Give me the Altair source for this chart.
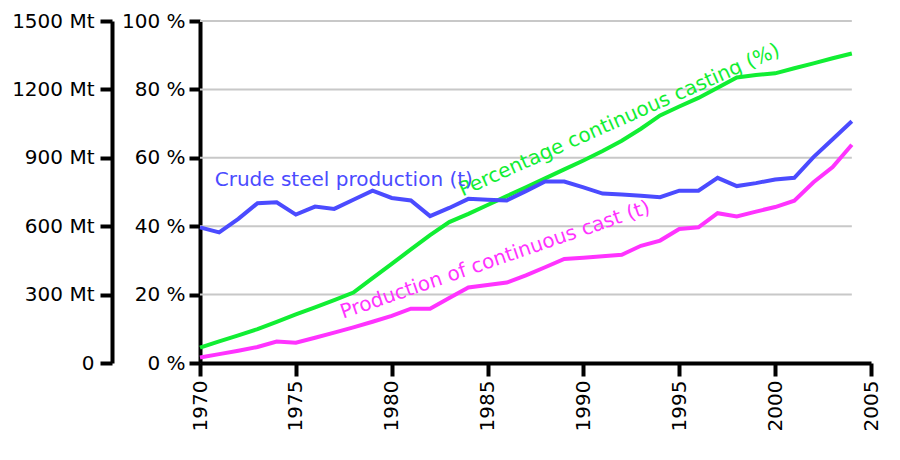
import altair as alt
import pandas as pd

FONT = "DejaVu Sans"
BLUE = "#4b4bff"
GREEN = "#11ee33"
MAGENTA = "#ff33ff"

years = list(range(1970, 2005))
crude_steel_mt = [595, 573, 632, 701, 705, 651, 686, 676, 716, 756,
                  724, 713, 644, 680, 720, 716, 713, 754, 796, 796,
                  770, 743, 739, 734, 727, 756, 756, 812, 776, 789,
                  805, 812, 903, 981, 1060]
continuous_cast_mt = [24, 39, 54, 70, 94, 89, 111, 133, 156, 181,
                      207, 238, 238, 285, 331, 342, 353, 384, 420, 456,
                      462, 468, 475, 514, 537, 588, 595, 657, 643, 664,
                      684, 712, 793, 859, 957]
continuous_pct = [4.5, 6.3, 8.1, 9.9, 12.0, 14.2, 16.3, 18.4, 20.6, 24.8,
                  29.0, 33.2, 37.4, 41.2, 43.6, 46.2, 48.8, 51.4, 54.0, 56.6,
                  59.2, 62.0, 65.0, 68.5, 72.4, 75.0, 77.5, 80.5, 83.5, 84.2,
                  84.7, 86.2, 87.6, 89.1, 90.5]

year_ticks = [1970, 1975, 1980, 1985, 1990, 1995, 2000, 2005]
mt_ticks = [0, 300, 600, 900, 1200, 1500]
pct_ticks = [0, 20, 40, 60, 80, 100]
grid_pct = [20, 40, 60, 80, 100]

steel_label = ["Crude steel production (t)"]
cast_label = ["Production of continuous cast (t)"]
pct_label = ["Percentage continuous casting (%)"]

df = pd.DataFrame({"year": years, "steel": crude_steel_mt,
                   "cast": continuous_cast_mt, "pct": continuous_pct})

x_scale = alt.Scale(domain=[1970, 2005], nice=False, zero=False)
mt_scale = alt.Scale(domain=[0, 1500], nice=False)
pct_scale = alt.Scale(domain=[0, 100], nice=False)

x_axis = alt.Axis(values=year_ticks, format="d", labelAngle=270, labelFontSize=20,
                  labelFont=FONT, labelColor="black", domainColor="black", domainWidth=4,
                  tickColor="black", tickWidth=4, tickSize=13, labelPadding=4,
                  title=None, grid=False, labelFlush=False, labelOverlap=False)


def X(field):
    return alt.X(f"{field}:Q", scale=x_scale, axis=x_axis)


mt_axis = alt.Axis(orient="left", offset=88, values=mt_ticks,
                   labelExpr="datum.value == 0 ? '0' : datum.value + ' Mt'",
                   labelFontSize=20, labelFont=FONT, labelColor="black",
                   domainColor="black", domainWidth=4, tickColor="black", tickWidth=4,
                   tickSize=12, labelPadding=6, title=None, grid=False,
                   labelFlush=False, labelOverlap=False)
pct_axis = alt.Axis(orient="left", offset=0, values=pct_ticks,
                    labelExpr="datum.value + ' %'",
                    labelFontSize=20, labelFont=FONT, labelColor="black",
                    domainColor="black", domainWidth=4, tickColor="black", tickWidth=4,
                    tickSize=11, labelPadding=4, title=None, grid=False,
                    labelFlush=False, labelOverlap=False)

base = alt.Chart(df)

grid_df = pd.DataFrame({"g": grid_pct, "x0": [min(years)] * len(grid_pct),
                        "x1": [max(years)] * len(grid_pct)})
grid = alt.Chart(grid_df).mark_rule(color="#c8c8c8", strokeWidth=2).encode(
    x=X("x0"), x2="x1:Q", y=alt.Y("g:Q", scale=pct_scale, axis=pct_axis))

green_line = base.mark_line(color=GREEN, strokeWidth=4).encode(
    x=X("year"), y=alt.Y("pct:Q", scale=pct_scale, axis=None))

green_text = alt.Chart(pd.DataFrame({"year": [1992.0], "v": [69.4], "t": pct_label})).mark_text(
    angle=336, align="center", baseline="alphabetic", fontSize=20, font=FONT, color=GREEN
).encode(x=X("year"), y=alt.Y("v:Q", scale=pct_scale, axis=None), text="t:N")

blue_line = base.mark_line(color=BLUE, strokeWidth=4).encode(
    x=X("year"), y=alt.Y("steel:Q", scale=mt_scale, axis=mt_axis))
mag_line = base.mark_line(color=MAGENTA, strokeWidth=4).encode(
    x=X("year"), y=alt.Y("cast:Q", scale=mt_scale, axis=None))

blue_text = alt.Chart(pd.DataFrame({"year": [1977.5], "v": [778], "t": steel_label})).mark_text(
    angle=0, align="center", baseline="alphabetic", fontSize=20, font=FONT, color=BLUE
).encode(x=X("year"), y=alt.Y("v:Q", scale=mt_scale, axis=None), text="t:N")

mag_text = alt.Chart(pd.DataFrame({"year": [1985.5], "v": [427], "t": cast_label})).mark_text(
    angle=341, align="center", baseline="alphabetic", fontSize=20, font=FONT, color=MAGENTA
).encode(x=X("year"), y=alt.Y("v:Q", scale=mt_scale, axis=None), text="t:N")

chart = alt.layer(grid, green_line, green_text, blue_line, mag_line, blue_text, mag_text
                  ).resolve_scale(y="independent").resolve_axis(y="independent").properties(
    width=671, height=342,
    autosize=alt.AutoSizeParams(type="none"),
    padding={"left": 192, "top": 13, "right": 20, "bottom": 80},
    background="white",
).configure_view(stroke=None)

chart.save("out.html", embed_options={"renderer": "svg", "actions": False})
